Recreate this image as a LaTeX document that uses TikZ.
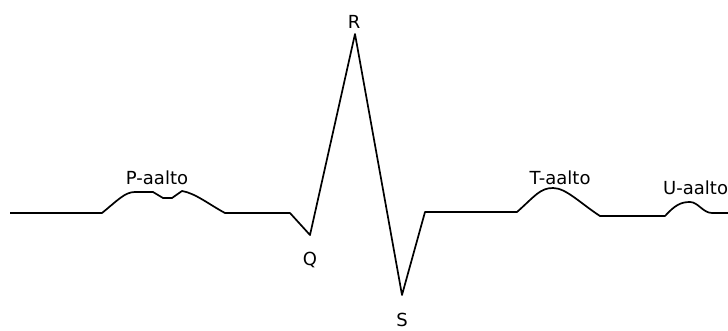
\documentclass[tikz,border=0pt]{standalone}
\usepackage{fontspec}
\setmainfont{DejaVu Sans}
\tikzset{lbl/.style={inner sep=0pt,font=\fontsize{18}{18}\selectfont},ecg/.style={line width=1.7pt,line join=round}}
\begin{document}
\begin{tikzpicture}[x=1pt,y=-1pt]
\useasboundingbox(0,0)rectangle(728,331);
\draw[ecg](10,213)--(102,213)..controls(118,200)and(125,192)..(135,192)--(153,192)--(163,198)--(172,198)--(182,191)..controls(195,193)and(210,205)..(225,213)--(290,213)--(310,235)--(355,34)--(402,295)--(425,212)--(517,212)..controls(535,196)and(540,188)..(553,188)..controls(566,188)and(580,203)..(600,216)--(665,216)..controls(675,205)and(681,202)..(690,202)..controls(698,202)and(703,213)..(712,213)--(728,213);
\node[lbl](p)at(157,178){P-aalto};\node[lbl](q)at(310,260){Q};\node[lbl](r)at(354,22){R};\node[lbl](s)at(402,320){S};
\node[lbl](t)at(560,178){T-aalto};\node[lbl,anchor=west](u)at(663,188){U-aalto};
\end{tikzpicture}
\end{document}
